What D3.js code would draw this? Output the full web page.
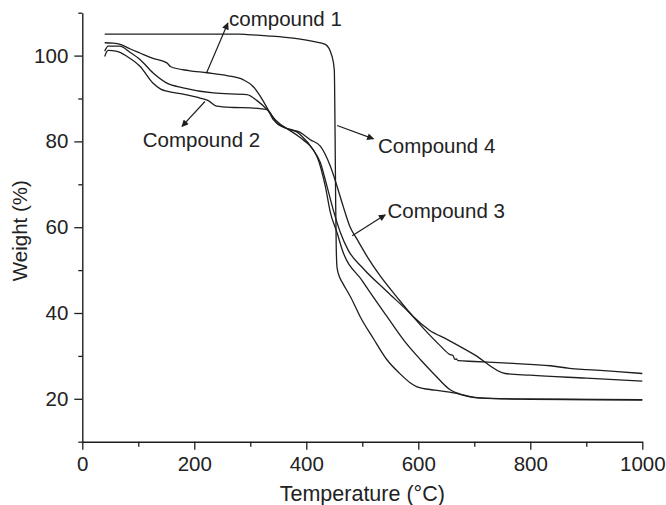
<!DOCTYPE html>
<html>
<head>
<meta charset="utf-8">
<script src="https://cdn.jsdelivr.net/npm/d3@7"></script>
<style>
  html, body { margin: 0; padding: 0; background: #fff; }
  svg { display: block; }
  text { font-family: "Liberation Sans", Arial, Helvetica, sans-serif; fill: #222; }
</style>
</head>
<body>
<svg id="chart" width="666" height="505"></svg>
<script>
// TGA curves: [temperature °C, weight %]
const compound1 = [[40,103.0],[55,102.9],[68,102.6],[85,101.6],[103,100.6],[125,99.4],[151,98.3],[158,97.4],[190,96.5],[223,96.0],[260,95.3],[287,94.4],[305,92.8],[318,90.5],[330,87.8],[341,85.1],[365,83.0],[389,80.9],[419,76.5],[434,69.5],[443,63.4],[455,58.7],[464,54.8],[500,47.5],[544,39.2],[575,33.5],[604,29.1],[630,25.5],[657,22.1],[680,20.9],[698,20.4],[750,20.0],[850,19.9],[1000,19.8]];
const compound2 = [[40,99.8],[46,101.2],[62,101.0],[80,99.8],[103,97.5],[126,93.6],[140,92.2],[151,91.7],[180,91.0],[210,90.1],[225,89.5],[240,88.2],[270,87.9],[300,87.8],[330,87.4],[347,84.3],[389,81.6],[412,78.1],[425,75.1],[437,69.5],[448,64.1],[461,58.7],[475,54.6],[500,50.6],[544,45.0],[586,39.8],[610,36.3],[639,32.4],[657,30.3],[662,30.1],[665,29.2],[668,29.3],[671,28.9],[700,28.7],[760,28.3],[836,27.7],[870,27.1],[902,26.8],[950,26.4],[1000,25.9]];
const compound3 = [[40,101.0],[46,102.2],[67,102.2],[85,100.8],[103,99.1],[126,96.0],[151,93.6],[180,92.5],[234,91.3],[294,90.9],[312,89.5],[330,87.4],[345,85.0],[365,83.0],[389,82.1],[407,80.4],[425,78.9],[443,74.2],[455,69.5],[466,64.8],[478,60.1],[491,57.1],[509,53.1],[530,49.0],[560,44.0],[591,39.2],[620,36.0],[652,33.8],[700,30.3],[755,25.9],[800,25.5],[900,24.8],[1000,24.1]];
const compound4 = [[40,105.0],[100,105.0],[200,105.0],[280,105.0],[295,104.9],[330,104.6],[380,104.0],[412,103.3],[434,102.6],[446,99.8],[450,96.7],[451.5,80],[452.5,65],[453.5,55],[455,50.5],[459,48.5],[464,47.2],[480,43.5],[496,39.2],[520,34],[544,29.1],[566,26],[586,23.7],[598,22.8],[630,22.0],[663,21.4],[705,20.2],[800,19.9],[1000,19.7]];

// Axis ticks
const xMajorTicks = [0, 200, 400, 600, 800, 1000];
const xMinorTicks = [100, 300, 500, 700, 900];
const yMajorTicks = [20, 40, 60, 80, 100];
const yMinorTicks = [10, 30, 50, 70, 90, 110];

// Callouts: label text, arrow tail [T, W], arrow head [T, W], label anchor [T, W]
const calloutLabels = ["compound 1", "Compound 2", "Compound 3", "Compound 4"];
const calloutTails  = [[222, 96.0], [219, 89.3], [482, 58.0], [455, 83.7]];
const calloutHeads  = [[260, 107.6], [178, 83.5], [541, 62.9], [520, 80.6]];
const calloutAnchors = [[262, 106.8], [108, 78.6], [545, 62.2], [528, 77.4]];

const svg = d3.select("#chart");
const ink = "#1e1e1e";
const fontFamily = '"Liberation Sans", Arial, sans-serif';

const x = d3.scaleLinear().domain([0, 1000]).range([82.3, 642.3]);
const y = d3.scaleLinear().domain([10, 110]).range([441.7, 12.7]);

// arrow marker
svg.append("defs").append("marker")
  .attr("id", "arrowhead")
  .attr("viewBox", "0 0 10 10")
  .attr("refX", 9).attr("refY", 5)
  .attr("markerWidth", 11).attr("markerHeight", 7)
  .attr("markerUnits", "userSpaceOnUse")
  .attr("orient", "auto")
  .append("path").attr("d", "M0,0 L10,5 L0,10 Z").attr("fill", ink);

// axes
svg.append("g").attr("transform", `translate(0,${y(10)})`)
  .call(d3.axisBottom(x).tickValues(xMajorTicks).tickFormat(d3.format("d"))
    .tickSize(8).tickPadding(7).tickSizeOuter(0));
svg.append("g").attr("transform", `translate(0,${y(10)})`)
  .call(d3.axisBottom(x).tickValues(xMinorTicks).tickSize(5).tickFormat("").tickSizeOuter(0))
  .select(".domain").remove();

svg.append("g").attr("transform", `translate(${x(0)},0)`)
  .call(d3.axisLeft(y).tickValues(yMajorTicks).tickSize(8).tickPadding(6).tickSizeOuter(0));
svg.append("g").attr("transform", `translate(${x(0)},0)`)
  .call(d3.axisLeft(y).tickValues(yMinorTicks).tickSize(4).tickFormat("").tickSizeOuter(0))
  .select(".domain").remove();

svg.selectAll(".domain").attr("stroke", ink).attr("stroke-width", 1.4);
svg.selectAll(".tick line").attr("stroke", ink).attr("stroke-width", 1.3);
svg.selectAll(".tick text").attr("font-size", 20.5).attr("fill", "#222")
  .style("font-family", fontFamily);

// axis titles
svg.append("text")
  .attr("x", x(500)).attr("y", 501)
  .attr("text-anchor", "middle").attr("font-size", 21.5)
  .text("Temperature (°C)");
svg.append("text")
  .attr("transform", `translate(27,${y(59.2)}) rotate(-90)`)
  .attr("text-anchor", "middle").attr("font-size", 20.5)
  .text("Weight (%)");

// curves
const line = d3.line().x(d => x(d[0])).y(d => y(d[1])).curve(d3.curveMonotoneX);
[compound1, compound2, compound3, compound4].forEach(s => {
  svg.append("path").datum(s)
    .attr("d", line)
    .attr("fill", "none")
    .attr("stroke", ink)
    .attr("stroke-width", 1.3)
    .attr("stroke-linejoin", "round");
});

// callouts
calloutLabels.forEach((label, i) => {
  svg.append("line")
    .attr("x1", x(calloutTails[i][0])).attr("y1", y(calloutTails[i][1]))
    .attr("x2", x(calloutHeads[i][0])).attr("y2", y(calloutHeads[i][1]))
    .attr("stroke", ink).attr("stroke-width", 1.2)
    .attr("marker-end", "url(#arrowhead)");
  svg.append("text")
    .attr("x", x(calloutAnchors[i][0])).attr("y", y(calloutAnchors[i][1]))
    .attr("font-size", 20.5)
    .text(label);
});
</script>
</body>
</html>
